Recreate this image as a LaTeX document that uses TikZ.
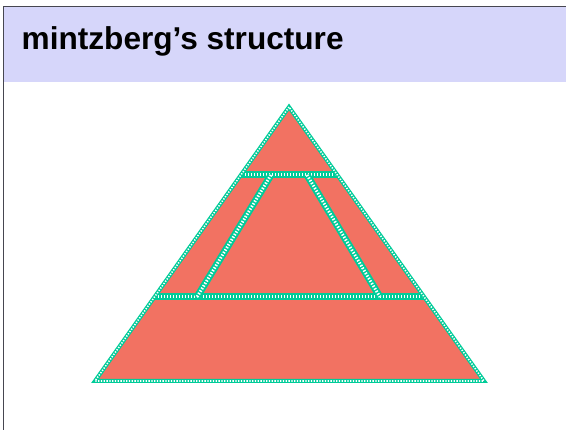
\documentclass[tikz,border=0pt]{standalone}
\usepackage{fontspec}
\setmainfont{Liberation Sans}
\definecolor{hdr}{RGB}{214,214,250}
\definecolor{salmon}{RGB}{242,114,98}
\definecolor{tealg}{RGB}{0,204,153}
\definecolor{frame}{RGB}{70,70,80}
\tikzset{
  rim/.style={draw=tealg, line width=4pt, line join=miter,
    postaction={draw=white, line width=1.6pt, dash pattern=on 1.3pt off 1.5pt}},
  band/.style={draw=tealg, line width=7pt, line cap=butt,
    postaction={draw=white, line width=3pt, dash pattern=on 1.4pt off 1.6pt}}
}
\begin{document}
\begin{tikzpicture}[x=1pt,y=-1pt]
\useasboundingbox (0,0) rectangle (566,430);
\fill[white] (0,0) rectangle (566,430);
\fill[hdr] (4,7) rectangle (566,82);
\draw[line width=1.2pt, draw=frame] (3.5,430) -- (3.5,6.5) -- (566,6.5);
\node[anchor=base west, font=\bfseries\fontsize{31.6}{36}\selectfont, inner sep=0] (title) at (21.5,50) {mintzberg’s structure};
% pyramid
\coordinate (A) at (289,107);
\coordinate (BL) at (95,381);
\coordinate (BR) at (484,381);
\coordinate (T1) at (230,175);
\coordinate (T2) at (350,175);
\coordinate (M1) at (140,297);
\coordinate (M2) at (440,297);
\coordinate (IL1) at (271,175);
\coordinate (IL2) at (197,297);
\coordinate (IR1) at (307,175);
\coordinate (IR2) at (380,297);
\fill[salmon] (A) -- (BL) -- (BR) -- cycle;
\begin{scope}
  \clip (A) -- (BL) -- (BR) -- cycle;
  \draw[band] (T1) -- (T2);
  \draw[band] (M1) -- (M2);
  \draw[band] (IL1) -- (IL2);
  \draw[band] (IR1) -- (IR2);
\end{scope}
\draw[rim] (A) -- (BL) -- (BR) -- cycle;
\end{tikzpicture}
\end{document}
